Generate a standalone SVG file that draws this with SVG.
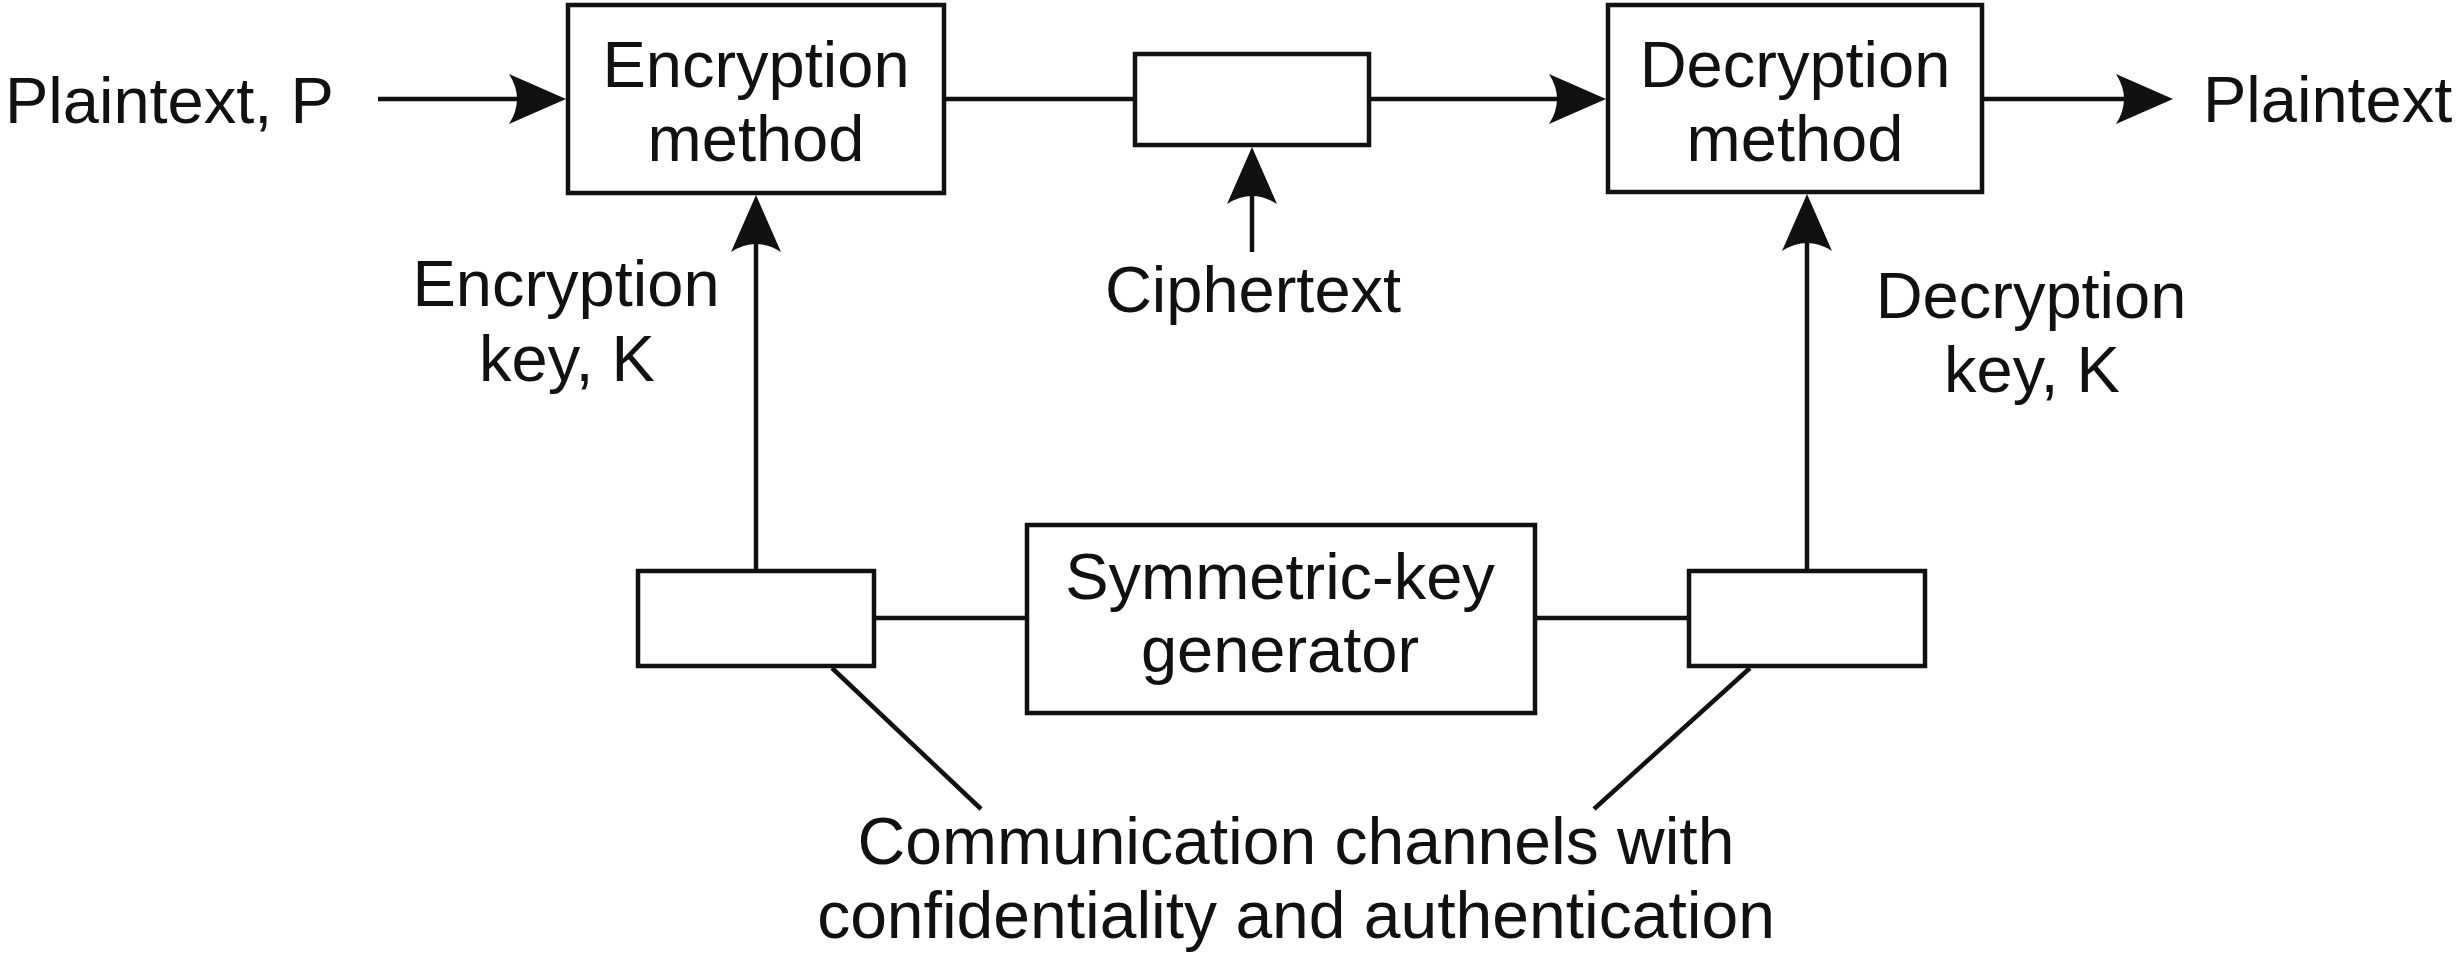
<svg xmlns="http://www.w3.org/2000/svg" xmlns:xlink="http://www.w3.org/1999/xlink" width="2458" height="975" viewBox="0 0 2458 975">
<style>
.box{fill:#fff;stroke:#111;stroke-width:4.5}
.ln{stroke:#111;stroke-width:4.5;fill:none}
.t{font-family:"Liberation Sans",Arial,sans-serif;font-size:65px;fill:#111}
.m{text-anchor:middle}
.ah{fill:#111}
</style>
<defs>
<path id="ah" class="ah" d="M0,0 L-57,-25 Q-41,0 -57,25 Z"/>
</defs>
<rect width="2458" height="975" fill="#fff"/>
<g id="connectors">
<line class="ln" x1="378" y1="99" x2="520" y2="99"/>
<use xlink:href="#ah" href="#ah" transform="translate(566,99)"/>
<line class="ln" x1="946" y1="99" x2="1133" y2="99"/>
<line class="ln" x1="1371" y1="99" x2="1560" y2="99"/>
<use xlink:href="#ah" href="#ah" transform="translate(1606,99)"/>
<line class="ln" x1="1984" y1="99" x2="2127" y2="99"/>
<use xlink:href="#ah" href="#ah" transform="translate(2173,99)"/>
<line class="ln" x1="1252" y1="252" x2="1252" y2="193"/>
<use xlink:href="#ah" href="#ah" transform="translate(1252,147) rotate(-90)"/>
<line class="ln" x1="756" y1="569" x2="756" y2="241"/>
<use xlink:href="#ah" href="#ah" transform="translate(756,195) rotate(-90)"/>
<line class="ln" x1="1807" y1="569" x2="1807" y2="240"/>
<use xlink:href="#ah" href="#ah" transform="translate(1807,194) rotate(-90)"/>
<line class="ln" x1="876" y1="618" x2="1025" y2="618"/>
<line class="ln" x1="1537" y1="618" x2="1687" y2="618"/>
<line class="ln" x1="832" y1="668" x2="981" y2="809"/>
<line class="ln" x1="1750" y1="668" x2="1594" y2="809"/>
</g>
<g id="plaintext-in">
<text class="t" x="5" y="123">Plaintext, P</text>
</g>
<g id="encryption-method">
<rect class="box" x="568" y="5" width="376" height="188"/>
<text class="t m" x="756" y="87">Encryption</text>
<text class="t m" x="756" y="161">method</text>
</g>
<g id="ciphertext-box">
<rect class="box" x="1135" y="54" width="234" height="91"/>
</g>
<g id="ciphertext-label">
<text class="t m" x="1253" y="312">Ciphertext</text>
</g>
<g id="decryption-method">
<rect class="box" x="1608" y="5" width="374" height="187"/>
<text class="t m" x="1795" y="87">Decryption</text>
<text class="t m" x="1795" y="161">method</text>
</g>
<g id="plaintext-out">
<text class="t" x="2203" y="122">Plaintext</text>
</g>
<g id="encryption-key">
<text class="t m" x="566" y="306">Encryption</text>
<text class="t m" x="567" y="381">key, K</text>
</g>
<g id="decryption-key">
<text class="t m" x="2031" y="318">Decryption</text>
<text class="t m" x="2032" y="392">key, K</text>
</g>
<g id="left-channel">
<rect class="box" x="638" y="571" width="236" height="95"/>
</g>
<g id="symmetric-key-generator">
<rect class="box" x="1027" y="525" width="508" height="188"/>
<text class="t m" x="1280" y="599">Symmetric-key</text>
<text class="t m" x="1280" y="672">generator</text>
</g>
<g id="right-channel">
<rect class="box" x="1689" y="571" width="236" height="95"/>
</g>
<g id="channels-label">
<text class="t m" x="1296" y="864" style="font-size:66px">Communication channels with</text>
<text class="t m" x="1296" y="938" style="font-size:66px">confidentiality and authentication</text>
</g>
</svg>
